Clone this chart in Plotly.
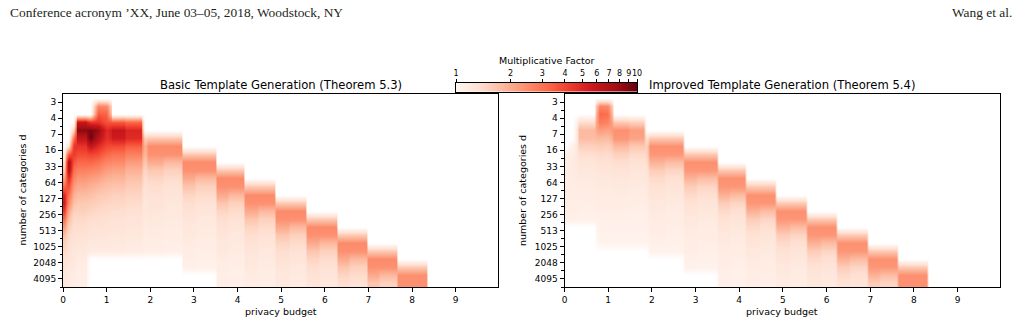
import numpy as np
import plotly.graph_objects as go

N = None
W, H = 1021, 324

# ---------------- data ----------------
d_labels = ["3", "4", "7", "16", "33", "64", "127", "256", "513", "1025", "2048", "4095"]
eps_ticks = [0, 1, 2, 3, 4, 5, 6, 7, 8, 9]
cbar_ticks = [1, 2, 3, 4, 5, 6, 7, 8, 9, 10]

# privacy-budget column edges (left panel) and multiplicative factor per column (24 rows, top->bottom)
basic_eps_edges = [0, 0.07, 0.18, 0.30, 0.55, 0.71, 0.90, 1.09, 1.42, 1.82, 1.93, 2.30, 2.73,
                   3.03, 3.50, 3.78, 4.15, 4.46, 4.85, 5.17, 5.57, 5.86, 6.27, 6.55, 6.96,
                   7.24, 7.66, 7.95, 8.34, 10.0]
basic_factor = [
    [N]*7 + [1.2, 1.4, 1.7, 2.2, 3.2, 5.0, 5.5, 4.2, 3.0, 2.2, 1.7, 1.5, 1.4, 1.3, 1.25, 1.2, 1.2],
    [N]*6 + [1.3, 3.5, 7.5, 7.0, 5.0, 3.8, 3.0, 2.5, 2.0, 1.7, 1.5, 1.4, 1.35, 1.3, 1.25, 1.2, 1.15, 1.15],
    [N]*4 + [1.4, 3.0, 4.5, 4.3, 3.6, 3.0, 2.6, 2.2, 1.9, 1.7, 1.5, 1.4, 1.35, 1.3, 1.25, 1.22, 1.2, 1.18, 1.15, 1.15],
    [N]*3 + [6.0, 8.5, 6.0, 4.5, 3.8, 3.2, 2.7, 2.3, 2.0, 1.75, 1.6, 1.5, 1.4, 1.35, 1.3, 1.25, 1.2, 1.15, 1.12, 1.1, 1.1],
    [N]*3 + [4.5, 9.0, 9.5, 6.0, 4.0, 3.2, 2.6, 2.2, 1.9, 1.7, 1.55, 1.45, 1.35, 1.3, 1.25, 1.2, 1.15] + [N]*4,
    [N, 2.6, 3.5, 4.5, 8.0, 6.5, 4.8, 3.8, 3.0, 2.5, 2.1, 1.8, 1.6, 1.5, 1.4, 1.35, 1.3, 1.25, 1.2, 1.15] + [N]*4,
    [N, 2.5, 3.3, 3.7, 4.8, 4.6, 3.9, 3.2, 2.6, 2.2, 1.9, 1.7, 1.55, 1.45, 1.38, 1.32, 1.28, 1.24, 1.2, 1.15] + [N]*4,
    [N]*3 + [3.5, 5.8, 5.5, 3.8, 3.0, 2.5, 2.1, 1.85, 1.65, 1.5, 1.42, 1.35, 1.3, 1.25, 1.22, 1.18, 1.15] + [N]*4,
    [N]*3 + [3.2, 5.0, 4.8, 3.4, 2.7, 2.2, 1.9, 1.7, 1.55, 1.45, 1.38, 1.32, 1.27, 1.23, 1.2, 1.16, 1.13] + [N]*4,
    [N]*5 + [1.5, 1.9, 1.8, 1.6, 1.45, 1.35, 1.3, 1.25, 1.22, 1.2, 1.18, 1.15, 1.13, 1.12, 1.1] + [N]*4,
    [N]*5 + [1.6, 2.5, 2.4, 2.0, 1.6, 1.45, 1.35, 1.3, 1.27, 1.24, 1.2, 1.17, 1.15, 1.12, 1.1] + [N]*4,
    [N]*5 + [1.6, 2.5, 2.4, 1.8, 1.5, 1.38, 1.3, 1.25, 1.22, 1.2, 1.17, 1.15, 1.12, 1.1, 1.08] + [N]*4,
    [N]*7 + [1.6, 2.5, 2.4, 2.0, 1.65, 1.45, 1.35, 1.3, 1.25, 1.2, 1.18, 1.15, 1.12, 1.1, 1.08] + [N]*2,
    [N]*7 + [1.6, 2.5, 2.4, 1.8, 1.5, 1.38, 1.3, 1.25, 1.2, 1.17, 1.15, 1.12, 1.1, 1.08, 1.06] + [N]*2,
    [N]*9 + [1.6, 2.5, 2.4, 2.0, 1.65, 1.45, 1.35, 1.3, 1.25, 1.2, 1.18, 1.15, 1.12, 1.1, 1.1],
    [N]*9 + [1.6, 2.5, 2.4, 1.8, 1.5, 1.38, 1.3, 1.25, 1.2, 1.17, 1.15, 1.12, 1.1, 1.08, 1.08],
    [N]*11 + [1.6, 2.5, 2.4, 2.0, 1.65, 1.45, 1.35, 1.3, 1.25, 1.2, 1.18, 1.15, 1.12],
    [N]*11 + [1.6, 2.5, 2.4, 1.8, 1.5, 1.38, 1.3, 1.25, 1.2, 1.17, 1.15, 1.12, 1.1],
    [N]*13 + [1.6, 2.5, 2.4, 2.0, 1.65, 1.45, 1.35, 1.3, 1.25, 1.2, 1.18],
    [N]*13 + [1.6, 2.5, 2.4, 1.8, 1.5, 1.38, 1.3, 1.25, 1.2, 1.17, 1.15],
    [N]*15 + [1.6, 2.5, 2.4, 2.0, 1.65, 1.45, 1.35, 1.3, 1.25],
    [N]*15 + [1.6, 2.5, 2.4, 1.8, 1.5, 1.38, 1.3, 1.25, 1.2],
    [N]*17 + [1.6, 2.5, 2.4, 2.0, 1.65, 1.45, 1.35],
    [N]*17 + [1.6, 2.5, 2.4, 1.8, 1.5, 1.38, 1.3],
    [N]*19 + [1.6, 2.5, 2.4, 2.0, 1.65],
    [N]*19 + [1.6, 2.5, 2.4, 1.8, 1.5],
    [N]*21 + [1.6, 2.4, 2.4],
    [N]*21 + [1.6, 2.4, 2.4],
    [N]*24,
]

improved_eps_edges = [0, 0.10, 0.30, 0.71, 0.90, 1.09, 1.46, 1.83, 1.93, 2.30, 2.72, 3.03, 3.50,
                      3.78, 4.15, 4.46, 4.83, 5.15, 5.54, 5.85, 6.23, 6.53, 6.94, 7.22, 7.63,
                      7.93, 8.32, 10.0]
improved_factor = [
    [N]*7 + [1.08, 1.12, 1.12, 1.12, 1.12, 1.1, 1.1, 1.1, 1.08] + [N]*8,
    [N]*6 + [1.08, 1.12, 1.15, 1.15, 1.15, 1.13, 1.12, 1.1, 1.1, 1.08] + [N]*8,
    [N]*3 + [1.35, 1.8, 1.75, 1.5, 1.35, 1.25, 1.2, 1.17, 1.15, 1.12, 1.1, 1.08, 1.06] + [N]*8,
    [N, 2.6, 3.2, 2.8, 2.2, 1.8, 1.55, 1.4, 1.3, 1.25, 1.2, 1.17, 1.15, 1.12, 1.1, 1.08, 1.07, 1.05, 1.03] + [N]*5,
    [N, 2.5, 3.0, 2.6, 2.1, 1.75, 1.5, 1.38, 1.3, 1.24, 1.2, 1.16, 1.14, 1.12, 1.1, 1.08, 1.06, 1.05, 1.03] + [N]*5,
    [N]*3 + [1.6, 2.4, 2.3, 1.8, 1.5, 1.35, 1.28, 1.22, 1.18, 1.15, 1.12, 1.1, 1.08, 1.06, 1.05, 1.03] + [N]*5,
    [N]*3 + [1.5, 2.2, 2.1, 1.6, 1.4, 1.3, 1.24, 1.2, 1.16, 1.13, 1.11, 1.09, 1.07, 1.06, 1.05, 1.03] + [N]*5,
    [N]*5 + [1.3, 1.5, 1.45, 1.35, 1.28, 1.22, 1.18, 1.15, 1.12, 1.1, 1.08, 1.06, 1.05, 1.03] + [N]*5,
    [N]*5 + [1.6, 2.4, 2.3, 1.9, 1.55, 1.4, 1.3, 1.25, 1.2, 1.17, 1.14, 1.12, 1.1, 1.08, 1.05] + [N]*4,
    [N]*5 + [1.6, 2.4, 2.3, 1.75, 1.45, 1.33, 1.26, 1.2, 1.17, 1.14, 1.12, 1.1, 1.08, 1.06, 1.04] + [N]*4,
    [N]*7 + [1.6, 2.4, 2.3, 1.9, 1.55, 1.4, 1.3, 1.25, 1.2, 1.17, 1.14, 1.12, 1.1, 1.08, 1.06] + [N]*2,
    [N]*7 + [1.6, 2.4, 2.3, 1.75, 1.45, 1.33, 1.26, 1.2, 1.17, 1.14, 1.12, 1.1, 1.08, 1.06, 1.05] + [N]*2,
    [N]*9 + [1.6, 2.4, 2.3, 1.9, 1.55, 1.4, 1.3, 1.25, 1.2, 1.17, 1.14, 1.12, 1.1, 1.08, 1.08],
    [N]*9 + [1.6, 2.4, 2.3, 1.75, 1.45, 1.33, 1.26, 1.2, 1.17, 1.14, 1.12, 1.1, 1.08, 1.06, 1.06],
    [N]*11 + [1.6, 2.4, 2.3, 1.9, 1.55, 1.4, 1.3, 1.25, 1.2, 1.17, 1.14, 1.12, 1.1],
    [N]*11 + [1.6, 2.4, 2.3, 1.75, 1.45, 1.33, 1.26, 1.2, 1.17, 1.14, 1.12, 1.1, 1.08],
    [N]*13 + [1.6, 2.4, 2.3, 1.9, 1.55, 1.4, 1.3, 1.25, 1.2, 1.17, 1.14],
    [N]*13 + [1.6, 2.4, 2.3, 1.75, 1.45, 1.33, 1.26, 1.2, 1.17, 1.14, 1.12],
    [N]*15 + [1.6, 2.4, 2.3, 1.9, 1.55, 1.4, 1.3, 1.25, 1.2],
    [N]*15 + [1.6, 2.4, 2.3, 1.75, 1.45, 1.33, 1.26, 1.2, 1.17],
    [N]*17 + [1.6, 2.4, 2.3, 1.9, 1.55, 1.4, 1.3],
    [N]*17 + [1.6, 2.4, 2.3, 1.75, 1.45, 1.33, 1.26],
    [N]*19 + [1.6, 2.4, 2.3, 1.9, 1.55],
    [N]*19 + [1.6, 2.4, 2.3, 1.75, 1.45],
    [N]*21 + [1.6, 2.4, 2.4],
    [N]*21 + [1.6, 2.4, 2.4],
    [N]*24,
]

# ---------------- styling ----------------
REDS = ['#fff5f0', '#fee0d2', '#fcbba1', '#fc9272', '#fb6a4a', '#ef3b2c', '#cb181d', '#a50f15', '#67000d']
ZMIN, ZMAX = -0.05, 1.0
colorscale = [[0.0, '#ffffff']] + [[(-ZMIN + 0.125 * i) / (ZMAX - ZMIN), c] for i, c in enumerate(REDS)]

FONT = "DejaVu Sans"
SERIF = "Liberation Serif"


def build(edges, cols):
    assert len(edges) == len(cols) + 1, (len(edges), len(cols))
    xe, zc = [], []
    for c, col in enumerate(cols):
        assert len(col) == 24, (c, len(col))
        a, b = edges[c], edges[c + 1]
        zcol = [ZMIN if v is None else float(np.log10(v)) for v in col]
        if b - a >= 0.2:
            xe += [a, a + 0.03, b - 0.03]
            zc += [zcol, zcol, zcol]
        else:
            xe += [a]
            zc += [zcol]
    xe.append(edges[-1])
    return xe, np.array(zc).T


y_edges = list(range(-1, 24))

fig = go.Figure()
for (edges, cols), xa, ya in [((basic_eps_edges, basic_factor), 'x', 'y'),
                               ((improved_eps_edges, improved_factor), 'x2', 'y2')]:
    xe, z = build(edges, cols)
    fig.add_trace(go.Heatmap(x=xe, y=y_edges, z=z, zsmooth='best', colorscale=colorscale,
                             zmin=ZMIN, zmax=ZMAX, showscale=False, xaxis=xa, yaxis=ya,
                             hoverinfo='skip'))

# colour bar drawn as its own small axis (log scale shown via log10 positions)
fig.add_trace(go.Heatmap(x=[0, 1], y=[0, 1], z=[[0, 1], [0, 1]], zsmooth='best',
                         colorscale=colorscale, zmin=ZMIN, zmax=ZMAX, showscale=False,
                         xaxis='x3', yaxis='y3', hoverinfo='skip'))


def px2x(p):
    return p / W


def py2y(p):
    return 1 - p / H


ydom = [py2y(287), py2y(94)]
common_x = dict(range=[0, 9.97], tickmode='array', tickvals=eps_ticks, ticks='outside', ticklen=4,
                tickcolor='black', tickwidth=1, showline=True, mirror=True, linecolor='black',
                linewidth=1, showgrid=False, zeroline=False, automargin=False, tickangle=0,
                tickfont=dict(family=FONT, size=9, color='black'))
common_y = dict(range=[23, -1], tickmode='array', tickvals=list(range(0, 24, 2)), ticktext=d_labels,
                ticks='outside', ticklen=4, tickcolor='black', tickwidth=1, showline=True,
                mirror=True, linecolor='black', linewidth=1, showgrid=False, zeroline=False,
                automargin=False, tickfont=dict(family=FONT, size=9, color='black'),
                minor=dict(tickmode='array', tickvals=list(range(1, 24, 2)), ticks='outside',
                           ticklen=2.3, tickcolor='black', tickwidth=1, showgrid=False))

fig.update_layout(
    template='none',
    width=W, height=H, autosize=False, margin=dict(l=0, r=0, t=0, b=0, pad=0),
    paper_bgcolor='white', plot_bgcolor='white', showlegend=False,
    xaxis=dict(domain=[px2x(63), px2x(498)], anchor='y', **common_x),
    yaxis=dict(domain=ydom, anchor='x', **common_y),
    xaxis2=dict(domain=[px2x(564.5), px2x(1000)], anchor='y2', **common_x),
    yaxis2=dict(domain=ydom, anchor='x2', **common_y),
    xaxis3=dict(domain=[px2x(456), px2x(637)], anchor='y3', range=[0, 1], side='top',
                tickmode='array', tickvals=[float(np.log10(t)) for t in cbar_ticks],
                ticktext=[str(t) for t in cbar_ticks], ticks='outside', ticklen=2.5,
                tickcolor='black', tickwidth=1, showline=True, mirror=True, linecolor='black',
                linewidth=1, showgrid=False, zeroline=False, automargin=False, tickangle=0,
                tickfont=dict(family=FONT, size=8, color='black')),
    xaxis4=dict(overlaying='x3', anchor='y3', range=[0, 1], side='top', tickmode='array',
                tickvals=[0, 1], ticks='outside', ticklen=4.5, tickcolor='black', tickwidth=1,
                showticklabels=False, showgrid=False, zeroline=False, showline=False,
                automargin=False),
    yaxis3=dict(domain=[py2y(92), py2y(82.5)], anchor='x3', range=[0, 1], showticklabels=False,
                ticks='', showline=True, mirror=True, linecolor='black', linewidth=1,
                showgrid=False, zeroline=False, automargin=False),
)

ann = [
    dict(text="Conference acronym ’XX, June 03–05, 2018, Woodstock, NY", x=px2x(8), y=py2y(12.5),
         xanchor='left', yanchor='middle', font=dict(family=SERIF, size=13.4, color='#231f20')),
    dict(text="Wang et al.", x=px2x(1014), y=py2y(12.5), xanchor='right', yanchor='middle',
         font=dict(family=SERIF, size=13.4, color='#231f20')),
    dict(text="Basic Template Generation (Theorem 5.3)", x=px2x(280.5), y=py2y(85),
         xanchor='center', yanchor='middle', font=dict(family=FONT, size=11.6, color='black')),
    dict(text="Improved Template Generation (Theorem 5.4)", x=px2x(782), y=py2y(85),
         xanchor='center', yanchor='middle', font=dict(family=FONT, size=11.6, color='black')),
    dict(text="Multiplicative Factor", x=px2x(546.5), y=py2y(61), xanchor='center',
         yanchor='middle', font=dict(family=FONT, size=9.5, color='black')),
    dict(text="privacy budget", x=px2x(280.5), y=py2y(311), xanchor='center', yanchor='middle',
         font=dict(family=FONT, size=9.5, color='black')),
    dict(text="privacy budget", x=px2x(782), y=py2y(311), xanchor='center', yanchor='middle',
         font=dict(family=FONT, size=9.5, color='black')),
    dict(text="number of categories d", x=px2x(22), y=py2y(190.5), xanchor='center',
         yanchor='middle', textangle=-90, font=dict(family=FONT, size=9.5, color='black')),
    dict(text="number of categories d", x=px2x(522.5), y=py2y(190.5), xanchor='center',
         yanchor='middle', textangle=-90, font=dict(family=FONT, size=9.5, color='black')),
]
for a in ann:
    a.update(xref='paper', yref='paper', showarrow=False)
fig.update_layout(annotations=ann)

fig.write_html("out.html")
